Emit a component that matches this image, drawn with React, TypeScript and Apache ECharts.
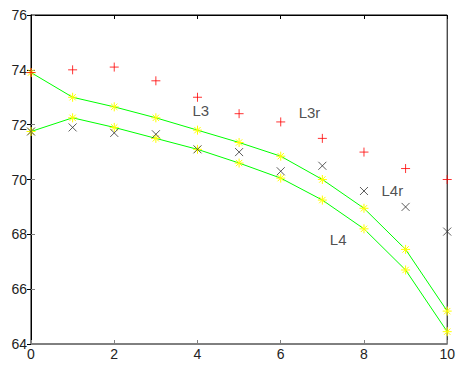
import React, { useEffect, useRef } from "react";
import * as echarts from "echarts";

const xValues = [0, 1, 2, 3, 4, 5, 6, 7, 8, 9, 10];
const l3r = [73.9, 74.0, 74.1, 73.6, 73.0, 72.4, 72.1, 71.5, 71.0, 70.4, 70.0];
const l4r = [71.75, 71.9, 71.7, 71.65, 71.1, 71.0, 70.3, 70.5, 69.58, 69.0, 68.1];
const l3 = [73.9, 73.0, 72.65, 72.25, 71.8, 71.35, 70.85, 70.0, 68.95, 67.45, 65.2];
const l4 = [71.75, 72.25, 71.9, 71.5, 71.1, 70.6, 70.05, 69.25, 68.2, 66.7, 64.45];
const labelNames = ["L3", "L3r", "L4r", "L4"];
const labelX = [3.88, 6.43, 8.42, 7.18];
const labelY = [72.5, 72.45, 69.6, 67.8];

const PLUS = "path://M0,5L10,5M5,0L5,10";
const CROSS = "path://M0,0L10,10M10,0L0,10";
const STAR = "path://M0,5L10,5M5,0L5,10M1.5,1.5L8.5,8.5M8.5,1.5L1.5,8.5";

export default function App() {
  const ref = useRef<HTMLDivElement>(null);
  useEffect(() => {
    document.body.style.margin = "0";
    const chart = echarts.init(ref.current!, null, { renderer: "svg" });
    const pair = (ys: number[]) => xValues.map((x, i) => [x, ys[i]]);
    const font = { fontFamily: "Arial, 'Liberation Sans', sans-serif", fontSize: 14, color: "#222" };
    const hiddenAxisCommon = {
      axisLabel: { show: false },
      splitLine: { show: false },
    };
    chart.setOption({
      animation: false,
      backgroundColor: "#fff",
      grid: { left: 31, top: 15, right: 9, bottom: 25, show: true, borderColor: "#000", borderWidth: 1, backgroundColor: "#fff" },
      xAxis: [
        {
          type: "value", min: 0, max: 10, interval: 2,
          axisLine: { show: true, lineStyle: { color: "#808080", width: 1.5 } },
          axisTick: { show: true, inside: true, length: 4, lineStyle: { color: "#808080" } },
          axisLabel: { ...font, margin: 3 },
          splitLine: { show: false },
        },
        {
          type: "value", min: 0, max: 10, interval: 2, position: "top",
          axisLine: { show: true, lineStyle: { color: "#000", width: 1 } },
          axisTick: { show: true, inside: true, length: 4, lineStyle: { color: "#000" } },
          ...hiddenAxisCommon,
        },
      ],
      yAxis: [
        {
          type: "value", min: 64, max: 76, interval: 2,
          axisLine: { show: true, lineStyle: { color: "#808080", width: 1.5 } },
          axisTick: { show: true, inside: true, length: 4, lineStyle: { color: "#808080" } },
          axisLabel: { ...font, margin: 4 },
          splitLine: { show: false },
        },
        {
          type: "value", min: 64, max: 76, interval: 2, position: "right",
          axisLine: { show: true, lineStyle: { color: "#000", width: 1 } },
          axisTick: { show: true, inside: true, length: 4, lineStyle: { color: "#000" } },
          ...hiddenAxisCommon,
        },
      ],
      series: [
        {
          name: "L3", type: "line", data: pair(l3), symbol: STAR, symbolSize: 9,
          lineStyle: { color: "#00ff00", width: 1 },
          itemStyle: { color: "transparent", borderColor: "#ffff00", borderWidth: 1 },
          z: 3,
        },
        {
          name: "L4", type: "line", data: pair(l4), symbol: STAR, symbolSize: 9,
          lineStyle: { color: "#00ff00", width: 1 },
          itemStyle: { color: "transparent", borderColor: "#ffff00", borderWidth: 1 },
          z: 3,
        },
        {
          name: "L3r", type: "scatter", data: pair(l3r), symbol: PLUS, symbolSize: 9,
          itemStyle: { color: "transparent", borderColor: "#ff0000", borderWidth: 1 },
          z: 4,
        },
        {
          name: "L4r", type: "scatter", data: pair(l4r), symbol: CROSS, symbolSize: 8,
          itemStyle: { color: "transparent", borderColor: "#333", borderWidth: 1 },
          z: 4,
        },
        {
          name: "labels", type: "scatter", symbolSize: 0, silent: true,
          data: labelNames.map((n, i) => ({ name: n, value: [labelX[i], labelY[i]] })),
          label: {
            show: true, position: "right", distance: 0, formatter: "{b}",
            fontFamily: "Arial, 'Liberation Sans', sans-serif", fontSize: 15, color: "#222",
          },
          z: 5,
        },
      ],
    });
    return () => chart.dispose();
  }, []);
  return <div ref={ref} style={{ width: 458, height: 369 }} />;
}
